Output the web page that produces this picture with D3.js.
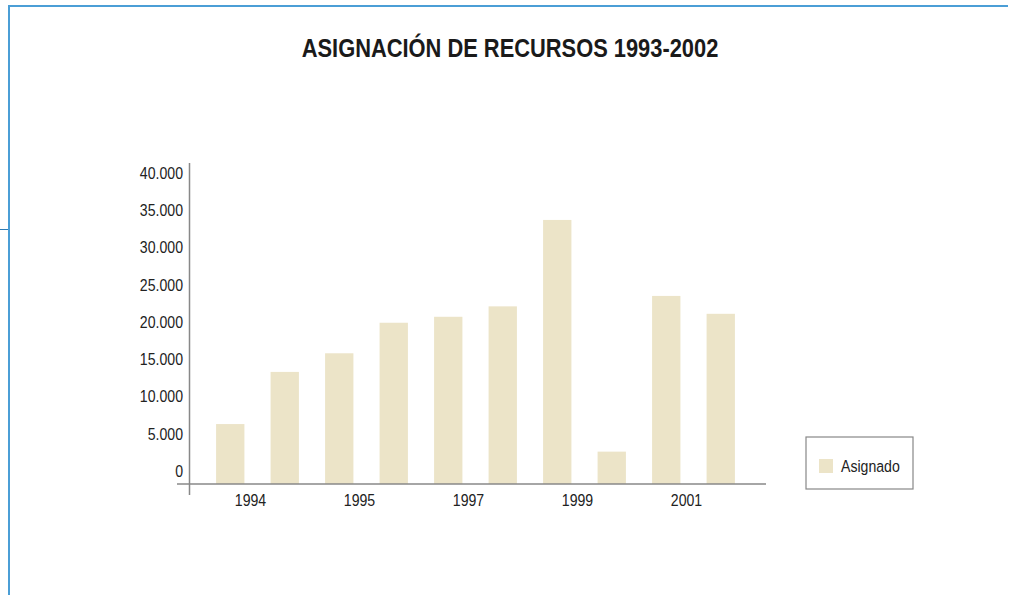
<!DOCTYPE html>
<html lang="es">
<head>
<meta charset="UTF-8">
<title>Asignación de recursos 1993-2002</title>
<style>
body { margin: 0; background: #fff; }
text { font-family: "Liberation Sans", Arial, sans-serif; fill: #222; }
</style>
</head>
<body>
<svg width="1010" height="595"></svg>
<script src="https://d3js.org/d3.v7.min.js"></script>
<script>

var years = ["1993", "1994", "1995", "1996", "1997", "1998", "1999", "2000", "2001", "2002"];
var asignado = [6300, 13300, 15800, 19900, 20700, 22100, 33700, 2600, 23500, 21100];
var xTickLabels = ["1994", "1995", "1997", "1999", "2001"];
var yTicks = [0, 5000, 10000, 15000, 20000, 25000, 30000, 35000, 40000];

var narrow = "scale(0.83,1)";   // no condensed font installed, squeeze instead

var svg = d3.select("svg");

// frame
svg.append("line").attr("x1", 8).attr("x2", 1008).attr("y1", 6).attr("y2", 6)
    .attr("stroke", "#4b9ed6").attr("stroke-width", 2);
svg.append("line").attr("x1", 9).attr("x2", 9).attr("y1", 5).attr("y2", 595)
    .attr("stroke", "#4b9ed6").attr("stroke-width", 2);
svg.append("line").attr("x1", 0).attr("x2", 8).attr("y1", 229.5).attr("y2", 229.5)
    .attr("stroke", "#2c7bb6").attr("stroke-width", 1);

svg.append("g")
    .attr("transform", "translate(510,57)")
  .append("text")
    .attr("transform", "scale(0.875,1)")
    .attr("text-anchor", "middle")
    .attr("font-weight", "bold")
    .attr("font-size", 25)
    .style("fill", "#1a1a1a")
    .text("ASIGNACIÓN DE RECURSOS 1993-2002");

var baseY = 484;

var x = d3.scaleBand()
    .domain(years)
    .range([203, 748])
    .paddingInner(0.48)
    .paddingOuter(0.24);

var y = d3.scaleLinear()
    .domain([0, 40000])
    .range([471, 173]);

var fmt = function(d) { return d3.format(",")(d).replace(/,/g, "."); };

// bars
svg.append("g")
  .selectAll("rect")
  .data(asignado)
  .enter().append("rect")
    .attr("x", function(d, i) { return x(years[i]); })
    .attr("y", function(d) { return y(d); })
    .attr("width", x.bandwidth())
    .attr("height", function(d) { return baseY - y(d); })
    .attr("fill", "#ece4c8");

// y axis
var yAxis = svg.append("g")
    .attr("transform", "translate(183,0)")
    .call(d3.axisLeft(y).tickValues(yTicks).tickSize(0).tickPadding(0).tickFormat(fmt));
yAxis.attr("font-family", null).attr("font-size", null);
yAxis.select(".domain").remove();
yAxis.selectAll("text")
    .attr("font-size", 17)
    .attr("transform", narrow)
    .style("fill", "#222");

svg.append("line").attr("x1", 189.5).attr("x2", 189.5).attr("y1", 163).attr("y2", 495)
    .attr("stroke", "#888").attr("stroke-width", 1.5);
svg.append("line").attr("x1", 177).attr("x2", 766).attr("y1", baseY).attr("y2", baseY)
    .attr("stroke", "#888").attr("stroke-width", 1.5);

// x tick labels, one per pair of bars
svg.append("g")
  .selectAll("g")
  .data(xTickLabels)
  .enter().append("g")
    .attr("transform", function(d, i) {
      var a = x(years[i * 2]), b = x(years[i * 2 + 1]) + x.bandwidth();
      return "translate(" + ((a + b) / 2 - 7) + ",506)";
    })
  .append("text")
    .attr("transform", narrow)
    .attr("text-anchor", "middle")
    .attr("font-size", 17)
    .text(function(d) { return d; });

// legend
var legend = svg.append("g").attr("transform", "translate(806,437)");
legend.append("rect")
    .attr("width", 107).attr("height", 52)
    .attr("fill", "#fff").attr("stroke", "#888").attr("stroke-width", 1.2);
legend.append("rect")
    .attr("x", 13).attr("y", 22).attr("width", 14).attr("height", 14)
    .attr("fill", "#ece4c8");
legend.append("g")
    .attr("transform", "translate(35,35)")
  .append("text")
    .attr("transform", narrow)
    .attr("font-size", 17)
    .text("Asignado");

</script>
</body>
</html>
